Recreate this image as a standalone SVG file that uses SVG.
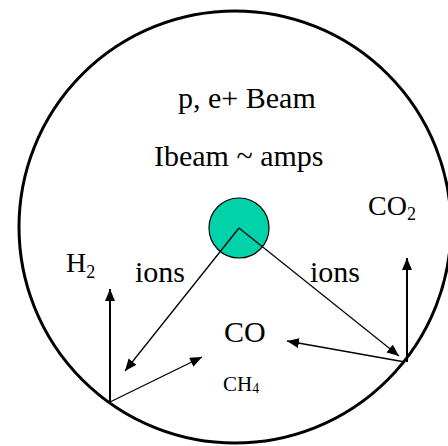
<svg xmlns="http://www.w3.org/2000/svg" width="448" height="446" viewBox="0 0 448 446">
<style>
text{font-family:"Liberation Serif","Times New Roman",serif;fill:#000}
.big{font-size:30px}
.mid{font-size:28px}
.thin{stroke:#000;stroke-width:1.3;fill:none}
.thick{stroke:#000;stroke-width:2;fill:none}
</style>
<defs>
<marker id="ah" markerUnits="userSpaceOnUse" markerWidth="14" markerHeight="12" refX="12" refY="5" orient="auto">
<path d="M0,0 L12,5 L0,10 Z" fill="#000"/>
</marker>
</defs>
<rect width="448" height="446" fill="#fff"/>
<g id="chamber"><circle cx="235" cy="227" r="216" fill="none" stroke="#000" stroke-width="3"/></g>
<g id="beam"><circle cx="239" cy="228" r="30" fill="#00D2AA" stroke="#000" stroke-width="1.2"/></g>
<g id="connectors">
<path class="thin" d="M239,228 L125,371" marker-end="url(#ah)"/>
<path class="thin" d="M239,228 L399,356" marker-end="url(#ah)"/>
<path class="thick" d="M110,402 L110,289" marker-end="url(#ah)"/>
<path class="thin" d="M110,402 L202,357" marker-end="url(#ah)"/>
<path class="thick" d="M407,362 L407,258" marker-end="url(#ah)"/>
<path class="thin" d="M405,362 L287,341" marker-end="url(#ah)"/>
</g>
<g id="labels">
<text class="big" x="178" y="108">p, e+ Beam</text>
<text class="big" x="154" y="166">Ibeam ~ amps</text>
<text class="mid" x="368" y="215">CO<tspan font-size="18" dy="5">2</tspan></text>
<text class="mid" x="66" y="272">H<tspan font-size="18" dy="6">2</tspan></text>
<text class="big" x="135" y="282">ions</text>
<text class="big" x="310" y="282">ions</text>
<text class="big" x="224" y="342">CO</text>
<text x="223" y="391" font-size="21">CH<tspan font-size="14" dy="2">4</tspan></text>
</g>
</svg>
